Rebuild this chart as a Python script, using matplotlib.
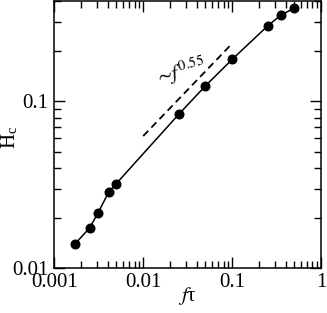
import numpy as np
import matplotlib
matplotlib.use('Agg')
import matplotlib.pyplot as plt
from matplotlib.ticker import LogLocator, NullFormatter, FixedLocator, FixedFormatter

# Datos
f_tau = [0.0017, 0.0025, 0.0031, 0.0041, 0.0049, 0.025, 0.05, 0.1, 0.25, 0.35, 0.5]
H_c = [0.0139, 0.0174, 0.0214, 0.0286, 0.0318, 0.0836, 0.124, 0.179, 0.284, 0.329, 0.364]

# Linea guia ~f^0.55
guia_x = [0.01, 0.1]
guia_y = [0.062, 0.223]

plt.rcParams['font.family'] = 'Liberation Serif'
plt.rcParams['mathtext.fontset'] = 'stix'

fig = plt.figure(figsize=(3.27, 3.13), dpi=100)
ax = fig.add_axes([0.166, 0.144, 0.816, 0.852])

ax.plot(f_tau, H_c, color='black', lw=1.1, marker='o', ms=6.2)
ax.plot(guia_x, guia_y, color='black', lw=1.3, ls=(0, (4, 2.5)))

ax.text(0.0258, 0.151, r'$\sim\!f^{0.55}$', rotation=15, ha='center', va='center',
        fontsize=15, rotation_mode='anchor')

ax.set_xscale('log')
ax.set_yscale('log')
ax.set_xlim(0.001, 1)
ax.set_ylim(0.01, 0.4)

ax.xaxis.set_major_locator(FixedLocator([0.001, 0.01, 0.1, 1]))
ax.xaxis.set_major_formatter(FixedFormatter(['0.001', '0.01', '0.1', '1']))
ax.xaxis.set_minor_locator(LogLocator(base=10, subs=np.arange(2, 10)))
ax.xaxis.set_minor_formatter(NullFormatter())
ax.yaxis.set_major_locator(FixedLocator([0.01, 0.1]))
ax.yaxis.set_major_formatter(FixedFormatter(['0.01', '0.1']))
ax.yaxis.set_minor_locator(LogLocator(base=10, subs=np.arange(2, 10)))
ax.yaxis.set_minor_formatter(NullFormatter())

ax.tick_params(which='both', direction='in', top=True, right=True, labelsize=15, width=1.0)
ax.tick_params(which='major', length=8, pad=4)
ax.tick_params(which='minor', length=5)
for s in ax.spines.values():
    s.set_linewidth(1.1)

ax.set_xlabel(r'$f$τ', fontsize=15, va='center')
ax.xaxis.set_label_coords(0.5, -0.107)
ax.set_ylabel(r'H$_\mathregular{c}$', fontsize=15, va='center')
ax.yaxis.set_label_coords(-0.165, 0.49)

fig.savefig('out.png', dpi=100)
